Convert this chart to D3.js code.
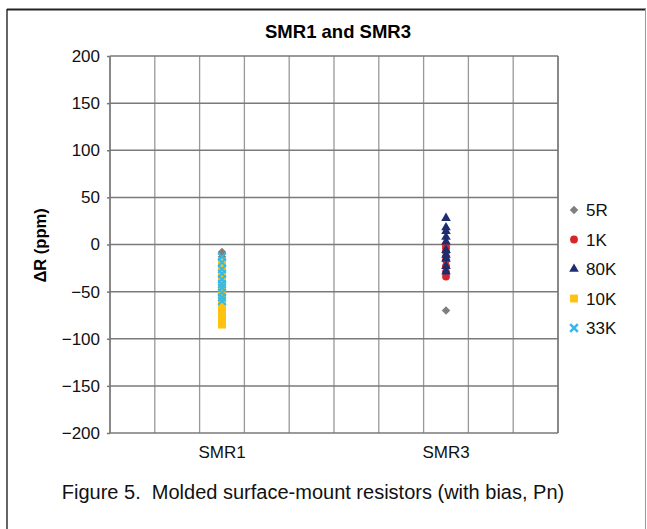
<!DOCTYPE html>
<html>
<head>
<meta charset="utf-8">
<script src="https://cdn.jsdelivr.net/npm/d3@7"></script>
<style>
  body { margin: 0; background: #fff; }
  svg { display: block; font-family: "Liberation Sans", Arial, Helvetica, sans-serif; }
</style>
</head>
<body>
<div class="ScatterChart"></div>
<script>
// categories and their x positions on the 0..4 axis
const categories = ['SMR1', 'SMR3'];
const categoryX = [1, 3];
const yTicks = [-200, -150, -100, -50, 0, 50, 100, 150, 200];
const seriesNames = ['5R', '1K', '80K', '10K', '33K'];

// ΔR (ppm) readings, one array per series and category
const r5_SMR1 = [-8, -10, -13];
const r5_SMR3 = [-12, -18, -70];
const k1_SMR1 = [];
const k1_SMR3 = [-1, -4, -8, -16, -23, -29, -34];
const k80_SMR1 = [];
const k80_SMR3 = [28, 18, 14, 8, 3, -6, -11, -15, -23, -29];
const k10_SMR1 = [-18, -22, -26, -30, -34, -38, -42, -46, -50, -54, -58, -62, -66, -70, -74, -78, -82, -85];
const k10_SMR3 = [];
const k33_SMR1 = [-13, -19, -26, -31, -37, -42, -46, -51, -56, -60];
const k33_SMR3 = [];

const seriesValues = [
  [r5_SMR1, r5_SMR3],
  [k1_SMR1, k1_SMR3],
  [k80_SMR1, k80_SMR3],
  [k10_SMR1, k10_SMR3],
  [k33_SMR1, k33_SMR3]
];

const width = 647;
const height = 529;
const margin = {top: 56, left: 110, right: 89, bottom: 96};
const innerWidth = width - margin.left - margin.right;
const innerHeight = height - margin.top - margin.bottom;

const colors = ['#7f7f7f', '#d7262b', '#1f2c6e', '#ffc20e', '#33b9ea'];
const symbols = [
  d3.symbol().type(d3.symbolSquare).size(36),
  d3.symbol().type(d3.symbolCircle).size(48),
  d3.symbol().type(d3.symbolTriangle).size(40),
  d3.symbol().type(d3.symbolSquare).size(62),
  d3.symbol().type(d3.symbolX).size(40)
];
const rotations = [45, 0, 0, 0, 0];

const xScale = d3.scaleLinear().domain([0, 4]).range([margin.left, margin.left + innerWidth]);
const yScale = d3.scaleLinear().domain([-200, 200]).range([margin.top + innerHeight, margin.top]);

const svg = d3.select('.ScatterChart')
  .append('svg')
  .attr('width', width)
  .attr('height', height);

// outer figure frame
svg.append('line').attr('x1', 7).attr('x2', 7).attr('y1', 9).attr('y2', height)
  .attr('stroke', '#333').attr('stroke-width', 1.5);
svg.append('line').attr('x1', 7).attr('x2', 646).attr('y1', 9.5).attr('y2', 9.5)
  .attr('stroke', '#222').attr('stroke-width', 2);
svg.append('line').attr('x1', 645.5).attr('x2', 645.5).attr('y1', 9).attr('y2', height)
  .attr('stroke', '#999').attr('stroke-width', 1);

// title
svg.append('text')
  .attr('x', margin.left + innerWidth / 2 + 4)
  .attr('y', 38)
  .attr('text-anchor', 'middle')
  .attr('font-size', 18.5)
  .attr('font-weight', 'bold')
  .text('SMR1 and SMR3');

// vertical grid
svg.append('g').attr('class', 'grid x')
  .selectAll('line')
  .data(d3.range(0, 4.01, 0.4))
  .enter().append('line')
  .attr('x1', d => xScale(d)).attr('x2', d => xScale(d))
  .attr('y1', margin.top).attr('y2', margin.top + innerHeight)
  .attr('stroke', '#999').attr('stroke-width', 1.3);

// y axis tick marks (labels are placed separately below)
const yAxis = d3.axisLeft(yScale)
  .tickValues(yTicks)
  .tickSize(3)
  .tickFormat('');

const yg = svg.append('g').attr('class', 'axis y')
  .attr('transform', `translate(${margin.left},0)`)
  .call(yAxis);
yg.select('.domain').remove();
yg.selectAll('line').attr('stroke', '#777').attr('stroke-width', 1.5);

const fmt = d3.format('');
svg.append('g').attr('class', 'ylabels')
  .selectAll('text')
  .data(yTicks)
  .enter().append('text')
  .attr('x', margin.left - 10)
  .attr('y', d => yScale(d))
  .attr('dy', '0.35em')
  .attr('text-anchor', 'end')
  .attr('font-size', 17)
  .attr('fill', '#111')
  .text(d => fmt(d));

// horizontal grid
svg.append('g').attr('class', 'grid y')
  .selectAll('line')
  .data(yTicks)
  .enter().append('line')
  .attr('x1', margin.left).attr('x2', margin.left + innerWidth)
  .attr('y1', d => yScale(d)).attr('y2', d => yScale(d))
  .attr('stroke', '#7a7a7a').attr('stroke-width', 1.5);

// left/right frame of plot area
svg.append('line').attr('x1', margin.left).attr('x2', margin.left)
  .attr('y1', margin.top).attr('y2', margin.top + innerHeight)
  .attr('stroke', '#777').attr('stroke-width', 1.5);
svg.append('line').attr('x1', margin.left + innerWidth).attr('x2', margin.left + innerWidth)
  .attr('y1', margin.top).attr('y2', margin.top + innerHeight)
  .attr('stroke', '#777').attr('stroke-width', 1.5);

// x category labels
svg.append('g').attr('class', 'xlabels')
  .selectAll('text')
  .data(categories)
  .enter().append('text')
  .attr('x', (d, i) => xScale(categoryX[i]))
  .attr('y', margin.top + innerHeight + 25)
  .attr('text-anchor', 'middle')
  .attr('font-size', 17)
  .attr('fill', '#111')
  .text(d => d);

// y axis label
const yMid = margin.top + innerHeight / 2;
svg.append('text')
  .attr('transform', `translate(46,${yMid + 38}) rotate(-90)`)
  .attr('font-size', 16.5)
  .attr('font-weight', 'bold')
  .text('ΔR (ppm)');

// points
const points = [];
seriesValues.forEach((cats, s) => {
  cats.forEach((vals, c) => {
    vals.forEach(v => points.push({s, x: categoryX[c], v}));
  });
});

svg.append('g').attr('class', 'points')
  .selectAll('path')
  .data(points)
  .enter().append('path')
  .attr('transform', d => `translate(${xScale(d.x)},${yScale(d.v)}) rotate(${rotations[d.s]})`)
  .attr('d', d => symbols[d.s]())
  .attr('fill', d => d.s === 4 ? 'none' : colors[d.s])
  .attr('stroke', d => d.s === 4 ? colors[d.s] : 'none')
  .attr('stroke-width', 2);

// legend
const legend = svg.append('g').attr('class', 'legend')
  .attr('transform', 'translate(574,210)');

const entry = legend.selectAll('g')
  .data(seriesNames)
  .enter().append('g')
  .attr('transform', (d, i) => `translate(0,${i * 29.5})`);

entry.append('path')
  .attr('transform', (d, i) => `rotate(${rotations[i]})`)
  .attr('d', (d, i) => symbols[i]())
  .attr('fill', (d, i) => i === 4 ? 'none' : colors[i])
  .attr('stroke', (d, i) => i === 4 ? colors[i] : 'none')
  .attr('stroke-width', 2.5);

entry.append('text')
  .attr('x', 12)
  .attr('y', 6)
  .attr('font-size', 17)
  .attr('fill', '#111')
  .text(d => d);

// caption
svg.append('text')
  .attr('x', 313)
  .attr('y', 499)
  .attr('text-anchor', 'middle')
  .attr('font-size', 20)
  .attr('fill', '#111')
  .style('white-space', 'pre')
  .text('Figure 5.  Molded surface-mount resistors (with bias, Pn)');
</script>
</body>
</html>
